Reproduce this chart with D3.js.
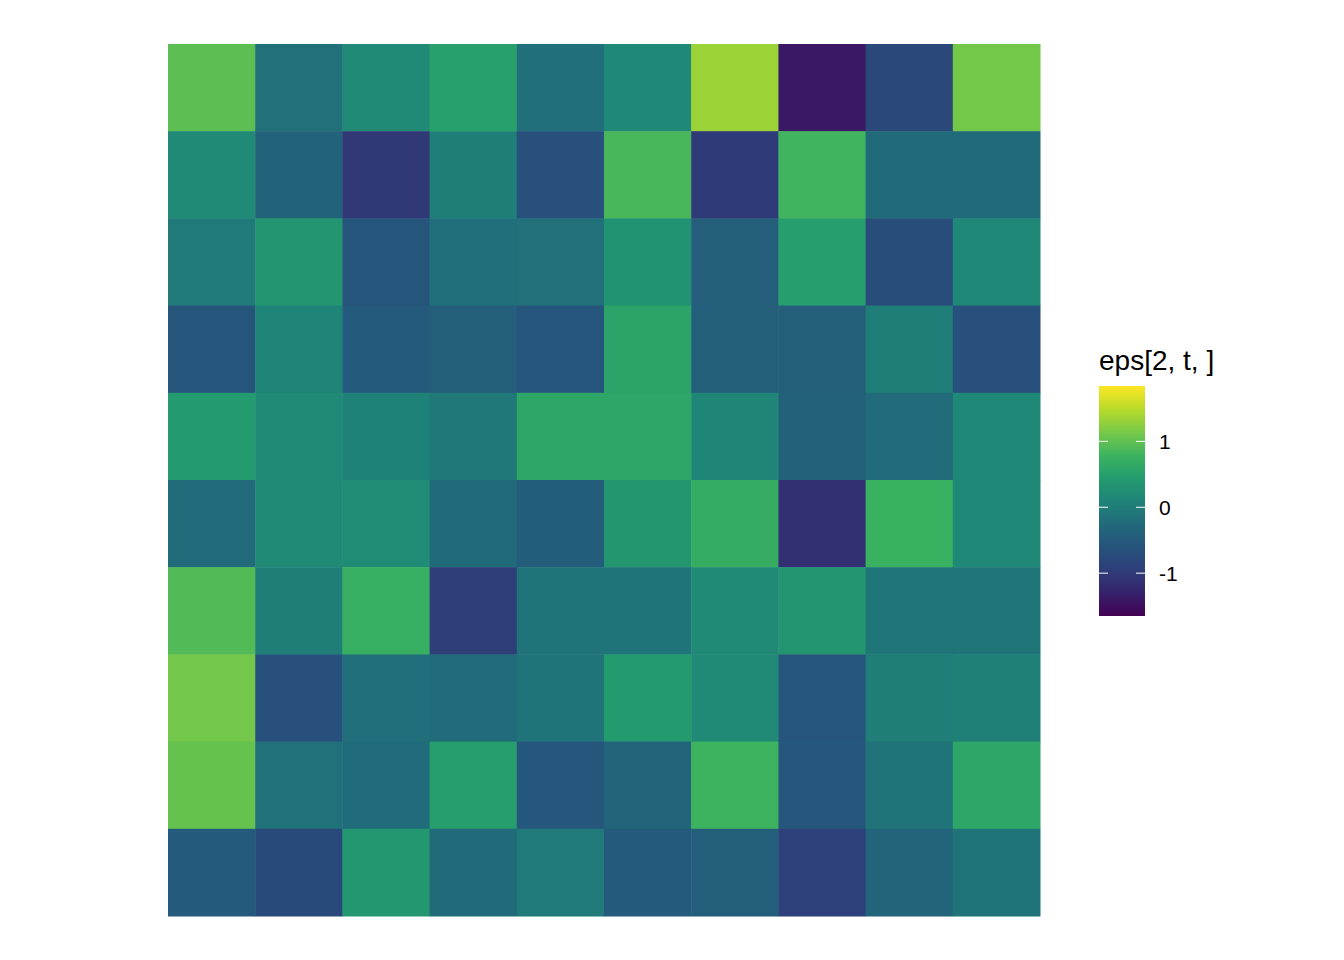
<!DOCTYPE html>
<html>
<head>
<meta charset="utf-8">
<script src="https://cdn.jsdelivr.net/npm/d3@7"></script>
<style>
  body { margin: 0; background: #fff; }
  text { font-family: "Liberation Sans", Arial, sans-serif; }
</style>
</head>
<body>
<div id="chart-area"></div>
<script>
// kolumny i wiersze siatki (wiersz 1 = gora)
var cols = [1, 2, 3, 4, 5, 6, 7, 8, 9, 10];
var rows = [1, 2, 3, 4, 5, 6, 7, 8, 9, 10];

var row1  = [0.98, -0.17, 0.18, 0.50, -0.19, 0.15, 1.34, -1.41, -0.79, 1.12];
var row2  = [0.18, -0.37, -1.02, 0.02, -0.66, 0.86, -0.99, 0.81, -0.25, -0.25];
var row3  = [-0.04, 0.34, -0.57, -0.19, -0.17, 0.31, -0.44, 0.47, -0.71, 0.15];
var row4  = [-0.57, 0.09, -0.49, -0.43, -0.57, 0.55, -0.43, -0.43, 0.02, -0.66];
var row5  = [0.41, 0.18, 0.07, -0.07, 0.59, 0.59, 0.12, -0.39, -0.24, 0.15];
var row6  = [-0.24, 0.18, 0.21, -0.25, -0.46, 0.36, 0.69, -1.13, 0.75, 0.15];
var row7  = [0.92, 0.02, 0.72, -0.95, -0.13, -0.13, 0.18, 0.34, -0.11, -0.11];
var row8  = [1.11, -0.66, -0.19, -0.24, -0.13, 0.43, 0.18, -0.57, 0.02, 0.04];
var row9  = [1.03, -0.16, -0.23, 0.47, -0.54, -0.33, 0.79, -0.54, -0.13, 0.59];
var row10 = [-0.49, -0.77, 0.38, -0.25, -0.04, -0.49, -0.42, -0.92, -0.34, -0.13];

var limits = [-1.65, 1.84];
var legendTicks = [-1, 0, 1];
var legendTitle = "eps[2, t, ]";

// paleta viridis (tak jak wyglada na obrazku)
var palette = ["#440154", "#36226c", "#2e3e79", "#26537c", "#216a7a", "#1f8478",
               "#249c6e", "#3db35f", "#78c948", "#b8db2a", "#fde725"];

var grid = [row1, row2, row3, row4, row5, row6, row7, row8, row9, row10];
var data = [];
grid.forEach(function(r, i) {
    r.forEach(function(v, j) {
        data.push({ row: rows[i], col: cols[j], value: v });
    });
});

var svg = d3.select("#chart-area")
    .append("svg")
    .attr("width", 1344)
    .attr("height", 960);

var x = d3.scaleBand()
    .domain(cols)
    .range([168, 1040])
    .padding(0);

var y = d3.scaleBand()
    .domain(rows)
    .range([44, 916])
    .padding(0);

var color = d3.scaleLinear()
    .domain(palette.map(function(c, i) { return limits[0] + (limits[1] - limits[0]) * i / (palette.length - 1); }))
    .range(palette)
    .clamp(true);

svg.selectAll("rect.tile")
    .data(data)
    .enter()
    .append("rect")
    .attr("class", "tile")
    .attr("x", function(d) { return x(d.col); })
    .attr("y", function(d) { return y(d.row); })
    .attr("width", x.bandwidth() + 0.5)
    .attr("height", y.bandwidth() + 0.5)
    .attr("fill", function(d) { return color(d.value); });

// legenda
var ly = d3.scaleLinear()
    .domain(limits)
    .range([616, 386]);

var grad = svg.append("defs")
    .append("linearGradient")
    .attr("id", "bar")
    .attr("x1", "0").attr("y1", "1")
    .attr("x2", "0").attr("y2", "0");

grad.selectAll("stop")
    .data(d3.range(0, 1.0001, 0.02))
    .enter()
    .append("stop")
    .attr("offset", function(d) { return d; })
    .attr("stop-color", function(d) { return color(limits[0] + d * (limits[1] - limits[0])); });

svg.append("text")
    .attr("x", 1099)
    .attr("y", 370)
    .attr("font-size", 28)
    .attr("fill", "#000")
    .text(legendTitle);

svg.append("rect")
    .attr("x", 1099)
    .attr("y", ly(limits[1]))
    .attr("width", 46)
    .attr("height", ly(limits[0]) - ly(limits[1]))
    .attr("fill", "url(#bar)");

var tk = svg.selectAll("g.tick")
    .data(legendTicks)
    .enter()
    .append("g")
    .attr("class", "tick");

tk.append("line")
    .attr("x1", 1099).attr("x2", 1108)
    .attr("y1", function(d) { return ly(d); })
    .attr("y2", function(d) { return ly(d); })
    .attr("stroke", "#fff")
    .attr("stroke-width", 1);

tk.append("line")
    .attr("x1", 1136).attr("x2", 1145)
    .attr("y1", function(d) { return ly(d); })
    .attr("y2", function(d) { return ly(d); })
    .attr("stroke", "#fff")
    .attr("stroke-width", 1);

tk.append("text")
    .attr("x", 1159)
    .attr("y", function(d) { return ly(d); })
    .attr("dy", "0.36em")
    .attr("font-size", 21)
    .attr("fill", "#000")
    .text(function(d) { return d; });
</script>
</body>
</html>
